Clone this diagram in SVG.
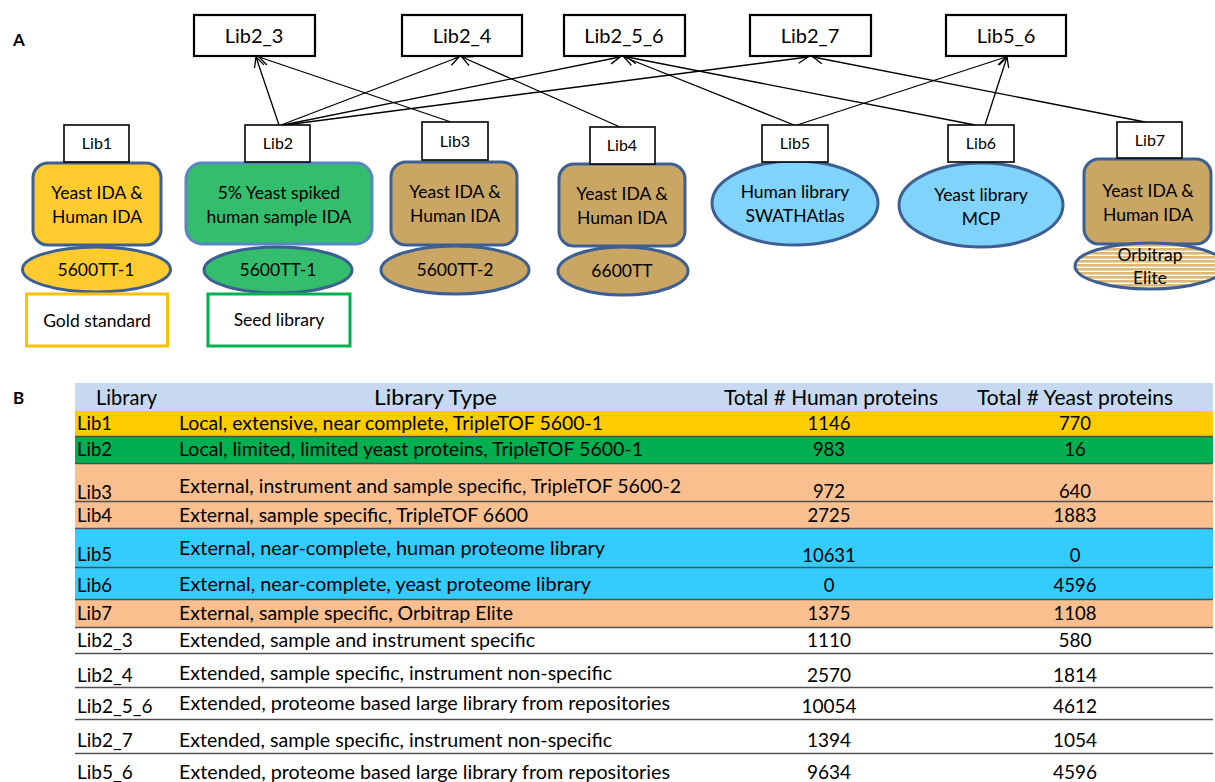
<svg xmlns="http://www.w3.org/2000/svg" width="1215" height="782" viewBox="0 0 1215 782">
<style>
text{font-family:Lato,"Open Sans","Liberation Sans",sans-serif;fill:#000}
.top rect{fill:#fff;stroke:#000;stroke-width:2.2}
.top text{font-size:20px;text-anchor:middle}
.lab rect{fill:#fff;stroke:#000;stroke-width:1.6}
.lab text{font-size:16px;text-anchor:middle}
.nd{stroke:#3d5f91;stroke-width:3}
.nt{font-size:17.5px;text-anchor:middle}
.conn line{stroke:#000;stroke-width:1.3;marker-end:url(#ah)}
.tb{font-size:18.5px}
.hd{font-size:20.5px}
.wr{font-size:19px}
.c{text-anchor:middle}
.sep{stroke:#505050;stroke-width:1.5}
</style>
<defs>
<marker id="ah" viewBox="0 0 12 12" refX="11" refY="6" markerWidth="12" markerHeight="12" markerUnits="userSpaceOnUse" orient="auto">
<path d="M1,1 L11,6 L1,11" fill="none" stroke="#000" stroke-width="1.3"/>
</marker>
<pattern id="stripe" width="8" height="4" patternUnits="userSpaceOnUse">
<rect width="8" height="4" fill="#fff"/>
<rect width="8" height="2.6" fill="#dcb874"/>
</pattern>
</defs>
<rect width="1215" height="782" fill="#fff"/>
<text x="13" y="46" style="font-size:17px;font-weight:bold">A</text>
<text x="13" y="404" style="font-size:17px;font-weight:bold">B</text>

<g id="connectors" class="conn">
<line x1="279" y1="125" x2="256" y2="57"/>
<line x1="451" y1="122" x2="259" y2="57"/>
<line x1="281" y1="125" x2="459" y2="57"/>
<line x1="620" y1="127" x2="462" y2="57"/>
<line x1="283" y1="125" x2="620" y2="57"/>
<line x1="285" y1="125" x2="808" y2="57"/>
<line x1="794" y1="125" x2="624" y2="57"/>
<line x1="975" y1="125" x2="627" y2="57"/>
<line x1="797" y1="125" x2="1006" y2="57"/>
<line x1="985" y1="125" x2="1007" y2="57"/>
<line x1="1145" y1="122" x2="813" y2="57"/>
</g>

<g id="Lib2_3" class="top"><rect x="194" y="15" width="121" height="41"/><text x="254" y="43">Lib2_3</text></g>
<g id="Lib2_4" class="top"><rect x="402" y="15" width="120" height="41"/><text x="462" y="43">Lib2_4</text></g>
<g id="Lib2_5_6" class="top"><rect x="564" y="15" width="121" height="41"/><text x="624" y="43">Lib2_5_6</text></g>
<g id="Lib2_7" class="top"><rect x="750" y="15" width="121" height="41"/><text x="810" y="43">Lib2_7</text></g>
<g id="Lib5_6" class="top"><rect x="946" y="15" width="120" height="41"/><text x="1006" y="43">Lib5_6</text></g>

<g id="Lib1">
<rect class="nd" x="33" y="163" width="128" height="82" rx="15" fill="#ffcb2f"/>
<text class="nt" x="97" y="199">Yeast IDA &amp;</text>
<text class="nt" x="97" y="223">Human IDA</text>
<ellipse class="nd" cx="96.5" cy="269.5" rx="74" ry="22.5" fill="#ffcb2f"/>
<text class="nt" x="96" y="276">5600TT-1</text>
<g class="lab"><rect x="64" y="125" width="65" height="37"/><text x="97" y="149">Lib1</text></g>
<rect x="26.5" y="294" width="141" height="52" fill="#fff" stroke="#ffc000" stroke-width="3"/>
<text class="nt" x="97" y="327">Gold standard</text>
</g>

<g id="Lib2">
<rect x="186" y="163" width="186" height="81" rx="16" fill="#33bd6d" stroke="#5a86c4" stroke-width="3"/>
<text class="nt" x="279" y="199">5% Yeast spiked</text>
<text class="nt" x="279" y="223">human sample IDA</text>
<ellipse class="nd" cx="278" cy="270" rx="74" ry="23" fill="#33bd6d"/>
<text class="nt" x="278" y="276">5600TT-1</text>
<g class="lab"><rect x="245" y="125" width="65" height="37"/><text x="278" y="149">Lib2</text></g>
<rect x="208" y="294" width="142" height="52" fill="#fff" stroke="#00b050" stroke-width="3"/>
<text class="nt" x="279" y="326">Seed library</text>
</g>

<g id="Lib3">
<rect class="nd" x="391" y="162" width="126" height="83" rx="15" fill="#c9a664"/>
<text class="nt" x="455" y="198">Yeast IDA &amp;</text>
<text class="nt" x="455" y="222">Human IDA</text>
<ellipse class="nd" cx="455" cy="270" rx="74" ry="24" fill="#c9a664"/>
<text class="nt" x="455" y="276">5600TT-2</text>
<g class="lab"><rect x="422" y="122" width="66" height="38"/><text x="455" y="147">Lib3</text></g>
</g>

<g id="Lib4">
<rect class="nd" x="559" y="164" width="126" height="82" rx="15" fill="#c9a664"/>
<text class="nt" x="622" y="200">Yeast IDA &amp;</text>
<text class="nt" x="622" y="224">Human IDA</text>
<ellipse class="nd" cx="623" cy="271" rx="65" ry="24" fill="#c9a664"/>
<text class="nt" x="622" y="277">6600TT</text>
<g class="lab"><rect x="590" y="127" width="65" height="37"/><text x="622" y="151">Lib4</text></g>
</g>

<g id="Lib5">
<ellipse class="nd" cx="795" cy="203" rx="83" ry="42" fill="#80d3fa"/>
<text class="nt" x="795" y="198">Human library</text>
<text class="nt" x="795" y="222">SWATHAtlas</text>
<g class="lab"><rect x="762" y="125" width="66" height="37"/><text x="795" y="149">Lib5</text></g>
</g>

<g id="Lib6">
<ellipse class="nd" cx="981" cy="205" rx="82" ry="42" fill="#80d3fa"/>
<text class="nt" x="981" y="201">Yeast library</text>
<text class="nt" x="981" y="225">MCP</text>
<g class="lab"><rect x="948" y="125" width="66" height="37"/><text x="981" y="149">Lib6</text></g>
</g>

<g id="Lib7">
<rect class="nd" x="1084" y="159" width="127" height="85" rx="15" fill="#c9a664"/>
<text class="nt" x="1148" y="197">Yeast IDA &amp;</text>
<text class="nt" x="1148" y="221">Human IDA</text>
<ellipse class="nd" cx="1150" cy="266" rx="75" ry="23" fill="url(#stripe)"/>
<text class="nt" x="1150" y="261">Orbitrap</text>
<text class="nt" x="1150" y="284">Elite</text>
<g class="lab"><rect x="1117" y="122" width="65" height="36"/><text x="1150" y="146">Lib7</text></g>
</g>

<g id="table" class="tb">
<rect x="75" y="383" width="1138" height="28" fill="#c6d9f1"/>
<rect x="75" y="411" width="1138" height="25" fill="#ffcc00"/>
<rect x="75" y="437" width="1138" height="26" fill="#00b050"/>
<rect x="75" y="464" width="1138" height="37" fill="#f9bf8f"/>
<rect x="75" y="502" width="1138" height="26" fill="#f9bf8f"/>
<rect x="75" y="529" width="1138" height="38" fill="#33ccff"/>
<rect x="75" y="568" width="1138" height="31" fill="#33ccff"/>
<rect x="75" y="600" width="1138" height="27" fill="#f9bf8f"/>
<line class="sep" x1="75" y1="436.5" x2="1213" y2="436.5"/>
<line class="sep" x1="75" y1="463.5" x2="1213" y2="463.5"/>
<line class="sep" x1="75" y1="501.5" x2="1213" y2="501.5"/>
<line class="sep" x1="75" y1="528.5" x2="1213" y2="528.5"/>
<line class="sep" x1="75" y1="567.5" x2="1213" y2="567.5"/>
<line class="sep" x1="75" y1="599.5" x2="1213" y2="599.5"/>
<line class="sep" x1="75" y1="627.5" x2="1213" y2="627.5"/>
<line class="sep" x1="75" y1="653.5" x2="1213" y2="653.5"/>
<line class="sep" x1="75" y1="687.5" x2="1213" y2="687.5"/>
<line class="sep" x1="75" y1="719.5" x2="1213" y2="719.5"/>
<line class="sep" x1="75" y1="753.5" x2="1213" y2="753.5"/>

<g class="hd">
<text x="96" y="405" textLength="61" lengthAdjust="spacingAndGlyphs">Library</text>
<text x="374" y="405" textLength="123" lengthAdjust="spacingAndGlyphs">Library Type</text>
<text x="724" y="405" textLength="214" lengthAdjust="spacingAndGlyphs">Total # Human proteins</text>
<text x="977" y="405" textLength="196" lengthAdjust="spacingAndGlyphs">Total # Yeast proteins</text>
</g>

<text x="77" y="430">Lib1</text><text x="179" y="430" textLength="424" lengthAdjust="spacingAndGlyphs">Local, extensive, near complete, TripleTOF 5600-1</text><text class="c" x="829" y="430">1146</text><text class="c" x="1075" y="430">770</text>
<text x="77" y="456">Lib2</text><text x="179" y="456" textLength="464" lengthAdjust="spacingAndGlyphs">Local, limited, limited yeast proteins, TripleTOF 5600-1</text><text class="c" x="829" y="456">983</text><text class="c" x="1075" y="456">16</text>
<text x="77" y="499">Lib3</text><text x="179" y="493" textLength="502" lengthAdjust="spacingAndGlyphs">External, instrument and sample specific, TripleTOF 5600-2</text><text class="c" x="829" y="498">972</text><text class="c" x="1075" y="498">640</text>
<text x="77" y="522">Lib4</text><text x="179" y="522" textLength="349" lengthAdjust="spacingAndGlyphs">External, sample specific, TripleTOF 6600</text><text class="c" x="829" y="522">2725</text><text class="c" x="1075" y="522">1883</text>
<text x="77" y="561">Lib5</text><text x="179" y="555" textLength="426" lengthAdjust="spacingAndGlyphs">External, near-complete, human proteome library</text><text class="c" x="829" y="562">10631</text><text class="c" x="1075" y="562">0</text>
<text x="77" y="592">Lib6</text><text x="179" y="591" textLength="412" lengthAdjust="spacingAndGlyphs">External, near-complete, yeast proteome library</text><text class="c" x="829" y="592">0</text><text class="c" x="1075" y="592">4596</text>
<text x="77" y="620">Lib7</text><text x="179" y="620" textLength="334" lengthAdjust="spacingAndGlyphs">External, sample specific, Orbitrap Elite</text><text class="c" x="829" y="620">1375</text><text class="c" x="1075" y="620">1108</text>

<g class="wr">
<text x="77" y="647">Lib2_3</text><text x="179" y="647" textLength="356" lengthAdjust="spacingAndGlyphs">Extended, sample and instrument specific</text><text class="c" x="829" y="647">1110</text><text class="c" x="1075" y="647">580</text>
<text x="77" y="682">Lib2_4</text><text x="179" y="680" textLength="433" lengthAdjust="spacingAndGlyphs">Extended, sample specific, instrument non-specific</text><text class="c" x="829" y="682">2570</text><text class="c" x="1075" y="682">1814</text>
<text x="77" y="713">Lib2_5_6</text><text x="179" y="710" textLength="491" lengthAdjust="spacingAndGlyphs">Extended, proteome based large library from repositories</text><text class="c" x="829" y="713">10054</text><text class="c" x="1075" y="713">4612</text>
<text x="77" y="747">Lib2_7</text><text x="179" y="747" textLength="433" lengthAdjust="spacingAndGlyphs">Extended, sample specific, instrument non-specific</text><text class="c" x="829" y="747">1394</text><text class="c" x="1075" y="747">1054</text>
<text x="77" y="779">Lib5_6</text><text x="179" y="779" textLength="491" lengthAdjust="spacingAndGlyphs">Extended, proteome based large library from repositories</text><text class="c" x="829" y="779">9634</text><text class="c" x="1075" y="779">4596</text>
</g>
</g>
</svg>
